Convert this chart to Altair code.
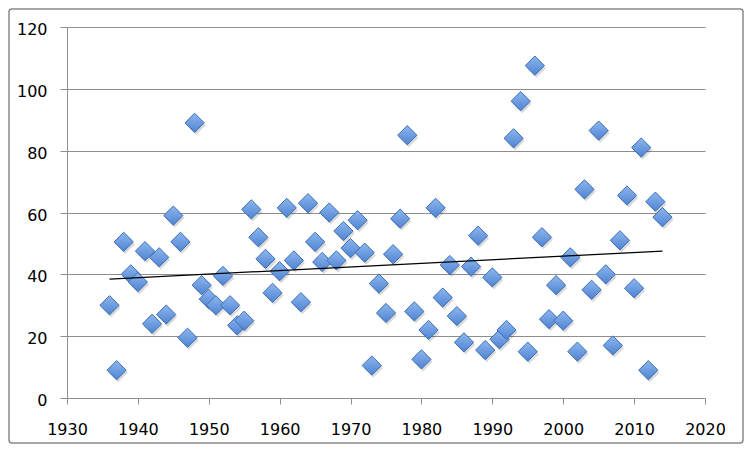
import altair as alt
import pandas as pd

years = list(range(1936, 2015))
values = [
    30, 9, 50.5, 40, 37.5, 47.5, 24, 45.5, 27, 59,
    50.5, 19.5, 89, 36.5, 32, 30, 39.5, 30, 23.5, 25,
    61, 52, 45, 34, 41, 61.5, 44.5, 31, 63, 50.5,
    44, 60, 44.5, 54, 48.5, 57.5, 47, 10.5, 37, 27.5,
    46.5, 58, 85, 28, 12.5, 22, 61.5, 32.5, 43, 26.5,
    18, 42.5, 52.5, 15.5, 39, 19, 22, 84, 96, 15,
    107.5, 52, 25.5, 36.5, 25, 45.5, 15, 67.5, 35, 86.5,
    40, 17, 51, 65.5, 35.5, 81, 9, 63.5, 58.5,
]
x_ticks = list(range(1930, 2021, 10))
y_ticks = list(range(0, 121, 20))

df = pd.DataFrame({"year": years, "value": values})

W, H = 638, 371
PL, PT, PR, PB = 59, 19, 39, 46

xs = alt.Scale(domain=[1930, 2020], nice=False, zero=False)
ys = alt.Scale(domain=[0, 120], nice=False)

grid_col = "#8e8e8e"
font = "DejaVu Sans"

x_enc = alt.X(
    "year:Q", scale=xs,
    axis=alt.Axis(
        values=x_ticks, format="d", title=None, grid=False,
        domainColor=grid_col, tickColor=grid_col, tickSize=6,
        labelFont=font, labelFontSize=16, labelColor="#000000",
        labelPadding=17, labelFlush=False,
    ),
)
y_enc = alt.Y(
    "value:Q", scale=ys,
    axis=alt.Axis(
        values=y_ticks, title=None, grid=True, gridColor=grid_col,
        domainColor=grid_col, tickColor=grid_col, tickSize=7,
        labelFont=font, labelFontSize=16, labelColor="#000000",
        labelPadding=13, labelOffset=2.5,
    ),
)

base = alt.Chart(df)

shadow = base.mark_point(
    shape="diamond", size=370, filled=True, color="#000000",
    opacity=0.15, xOffset=1.5, yOffset=2.5,
).encode(x=x_enc, y=y_enc)

points = base.mark_point(
    shape="diamond", size=370, filled=True, opacity=1,
    fill=alt.Gradient(
        gradient="linear",
        stops=[alt.GradientStop(color="#8db6ee", offset=0),
               alt.GradientStop(color="#4f84d2", offset=1)],
        x1=0, y1=0, x2=0, y2=1,
    ),
    stroke="#3d6fb3", strokeWidth=1,
).encode(x=x_enc, y=y_enc)

trend = base.transform_regression("year", "value").mark_line(
    color="#000000", strokeWidth=1.3
).encode(x=x_enc, y=y_enc)

frame = alt.Chart(pd.DataFrame({"a": [0]})).mark_rect(
    fill=None, stroke="#8a8a8a", strokeWidth=1.5, cornerRadius=3
).encode(
    x=alt.value(-PL + 1), x2=alt.value(W + PR - 1),
    y=alt.value(-PT + 1), y2=alt.value(H + PB - 1),
)

chart = alt.layer(shadow, points, trend, frame).properties(
    width=W, height=H,
    padding={"left": PL, "top": PT, "right": PR, "bottom": PB},
    autosize=alt.AutoSizeParams(type="none"),
    background="#ffffff",
).configure_view(stroke=None)

chart.save("out.html", embed_options={"renderer": "svg", "actions": False})
